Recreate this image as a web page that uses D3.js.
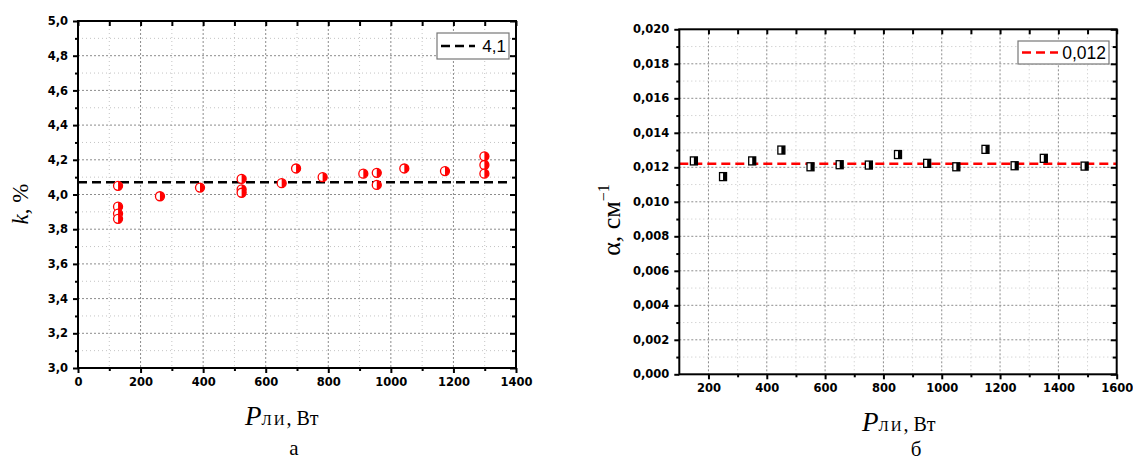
<!DOCTYPE html>
<html>
<head>
<meta charset="utf-8">
<script src="https://cdn.jsdelivr.net/npm/d3@7/dist/d3.min.js"></script>
<style>
	body { margin: 0; background: #fff; }
	.tick text { font-family: 'DejaVu Sans', sans-serif; font-weight: bold; font-size: 11.5px; fill: #000; }
	.serif { font-family: 'Liberation Serif', 'Times New Roman', serif; fill: #000; }
</style>
</head>
<body>
<svg id="chart" width="1133" height="463"></svg>
<script>
// panel a: k vs P
const kP = [128, 128, 128, 128, 262, 390, 523, 523, 523, 651, 697, 782, 912, 955, 955, 1043, 1173, 1299, 1299, 1299]
const kVal = [4.05, 3.93, 3.89, 3.86, 3.99, 4.04, 4.09, 4.03, 4.01, 4.065, 4.15, 4.1, 4.12, 4.125, 4.055, 4.15, 4.135, 4.22, 4.17, 4.12]
const kMean = 4.07
const kMeanX = [0, 1380]
const kLegend = '4,1'
const kXTicks = [0, 200, 400, 600, 800, 1000, 1200, 1400]
const kXMinor = [100, 300, 500, 700, 900, 1100, 1300]
const kYTicks = [3.0, 3.2, 3.4, 3.6, 3.8, 4.0, 4.2, 4.4, 4.6, 4.8, 5.0]
const kYMinor = [3.1, 3.3, 3.5, 3.7, 3.9, 4.1, 4.3, 4.5, 4.7, 4.9]

// panel b: alpha vs P
const aP = [150, 250, 350, 450, 550, 650, 750, 850, 950, 1050, 1150, 1250, 1350, 1490]
const aVal = [0.01237, 0.01146, 0.01237, 0.0130, 0.01203, 0.01215, 0.01213, 0.01274, 0.01223, 0.01203, 0.01304, 0.01209, 0.01252, 0.01207]
const aMean = 0.0122
const aMeanX = [100, 1600]
const aLegend = '0,012'
const aXTicks = [200, 400, 600, 800, 1000, 1200, 1400, 1600]
const aXMinor = [300, 500, 700, 900, 1100, 1300, 1500]
const aYTicks = [0, 0.002, 0.004, 0.006, 0.008, 0.01, 0.012, 0.014, 0.016, 0.018, 0.02]
const aYMinor = [0.001, 0.003, 0.005, 0.007, 0.009, 0.011, 0.013, 0.015, 0.017, 0.019]

const locale = d3.formatLocale({ decimal: ',', thousands: ' ', grouping: [3], currency: ['', ''] })

var svg = d3.select('#chart')

function drawPanel(cfg) {
	var x = d3.scaleLinear().domain(cfg.xDomain).range(cfg.xRange)
	var y = d3.scaleLinear().domain(cfg.yDomain).range(cfg.yRange)
	var g = svg.append('g')
	var x0 = cfg.xRange[0], x1 = cfg.xRange[1], y0 = cfg.yRange[1], y1 = cfg.yRange[0]

	// grid: minor first, then major
	var grid = g.append('g')
	grid.selectAll('.vminor').data(cfg.xMinor).join('line')
		.attr('x1', (d) => x(d)).attr('x2', (d) => x(d)).attr('y1', y0).attr('y2', y1)
		.attr('stroke', '#c4c4c4').attr('stroke-width', 1).attr('stroke-dasharray', '1,3')
	grid.selectAll('.hminor').data(cfg.yMinor).join('line')
		.attr('y1', (d) => y(d)).attr('y2', (d) => y(d)).attr('x1', x0).attr('x2', x1)
		.attr('stroke', '#c4c4c4').attr('stroke-width', 1).attr('stroke-dasharray', '1,3')
	grid.selectAll('.vmajor').data(cfg.xTicks.filter((d) => x(d) > x0 + 1 && x(d) < x1 - 1)).join('line')
		.attr('x1', (d) => x(d)).attr('x2', (d) => x(d)).attr('y1', y0).attr('y2', y1)
		.attr('stroke', '#8c8c8c').attr('stroke-width', 1).attr('stroke-dasharray', '2,2')
	grid.selectAll('.hmajor').data(cfg.yTicks.filter((d) => y(d) > y0 + 1 && y(d) < y1 - 1)).join('line')
		.attr('y1', (d) => y(d)).attr('y2', (d) => y(d)).attr('x1', x0).attr('x2', x1)
		.attr('stroke', '#8c8c8c').attr('stroke-width', 1).attr('stroke-dasharray', '2,2')

	// mean line
	g.append('line')
		.attr('x1', x(cfg.meanX[0])).attr('x2', x(cfg.meanX[1]))
		.attr('y1', y(cfg.mean)).attr('y2', y(cfg.mean))
		.attr('stroke', cfg.meanColor).attr('stroke-width', 2.5).attr('stroke-dasharray', '9,5')

	// axes
	function styleAxis(sel) {
		sel.select('.domain').remove()
		sel.selectAll('.tick line').attr('stroke', '#000').attr('stroke-width', 2)
	}
	g.append('g').attr('transform', 'translate(0,' + y1 + ')')
		.call(d3.axisBottom(x).tickValues(cfg.xTicks).tickSize(5).tickPadding(5).tickFormat(locale.format('d')))
		.call(styleAxis)
	g.append('g').attr('transform', 'translate(0,' + y1 + ')')
		.call(d3.axisBottom(x).tickValues(cfg.xMinor).tickSize(3).tickFormat(''))
		.call(styleAxis)
	g.append('g').attr('transform', 'translate(0,' + y0 + ')')
		.call(d3.axisBottom(x).tickValues(cfg.xTicks.concat(cfg.xMinor)).tickSize(5).tickFormat(''))
		.call(styleAxis)
	g.append('g').attr('transform', 'translate(' + x0 + ',0)')
		.call(d3.axisLeft(y).tickValues(cfg.yTicks).tickSize(5).tickPadding(5).tickFormat(locale.format(cfg.yFormat)))
		.call(styleAxis)
	g.append('g').attr('transform', 'translate(' + x0 + ',0)')
		.call(d3.axisLeft(y).tickValues(cfg.yMinor).tickSize(3).tickFormat(''))
		.call(styleAxis)
	g.append('g').attr('transform', 'translate(' + x1 + ',0)')
		.call(d3.axisLeft(y).tickValues(cfg.yTicks).tickSize(6).tickFormat(''))
		.call(styleAxis)
	g.append('g').attr('transform', 'translate(' + x1 + ',0)')
		.call(d3.axisLeft(y).tickValues(cfg.yMinor).tickSize(4).tickFormat(''))
		.call(styleAxis)

	// frame
	g.append('rect')
		.attr('x', x0).attr('y', y0).attr('width', x1 - x0).attr('height', y1 - y0)
		.attr('fill', 'none').attr('stroke', '#000').attr('stroke-width', 2)

	// points
	var pts = g.append('g').selectAll('g').data(cfg.xs.map((d, i) => [d, cfg.ys[i]])).join('g')
		.attr('transform', (d) => 'translate(' + x(d[0]) + ',' + y(d[1]) + ')')
	if (cfg.marker === 'circle') {
		pts.append('circle').attr('r', 4.5).attr('fill', '#fff').attr('stroke', '#f00').attr('stroke-width', 1.3)
		pts.append('path')
			.attr('d', d3.arc().innerRadius(0).outerRadius(4.5).startAngle(0).endAngle(Math.PI))
			.attr('fill', '#f00')
	} else {
		pts.append('rect').attr('x', -3.5).attr('y', -4).attr('width', 7).attr('height', 8)
			.attr('fill', '#fff').attr('stroke', '#000').attr('stroke-width', 1.3)
		pts.append('rect').attr('x', 0).attr('y', -4).attr('width', 3.5).attr('height', 8).attr('fill', '#000')
	}

	// legend
	var lg = cfg.legend
	g.append('rect').attr('x', lg.x).attr('y', lg.y).attr('width', lg.w).attr('height', lg.h)
		.attr('fill', '#fff').attr('stroke', '#777').attr('stroke-width', 1.2)
	g.append('line')
		.attr('x1', lg.x + 4).attr('x2', lg.x + lg.lineW).attr('y1', lg.y + lg.h / 2).attr('y2', lg.y + lg.h / 2)
		.attr('stroke', cfg.meanColor).attr('stroke-width', 2.5).attr('stroke-dasharray', '9,5')
	g.append('text')
		.attr('x', lg.x + lg.w - 3).attr('y', lg.y + lg.h / 2 + lg.size * 0.36)
		.attr('text-anchor', 'end')
		.style('font-family', "'Liberation Sans', Arial, sans-serif").style('font-size', lg.size + 'px')
		.text(cfg.legendText)
}

drawPanel({
	xs: kP, ys: kVal, mean: kMean, meanX: kMeanX, meanColor: '#000', legendText: kLegend,
	xDomain: [0, 1400], yDomain: [3, 5], xRange: [78, 516], yRange: [368, 21],
	xTicks: kXTicks, xMinor: kXMinor, yTicks: kYTicks, yMinor: kYMinor, yFormat: '.1f',
	marker: 'circle',
	legend: { x: 437, y: 33, w: 72, h: 26, lineW: 38, size: 17 },
})

drawPanel({
	xs: aP, ys: aVal, mean: aMean, meanX: aMeanX, meanColor: '#f00', legendText: aLegend,
	xDomain: [100, 1600], yDomain: [0, 0.02], xRange: [679.3, 1116.7], yRange: [374.3, 29.3],
	xTicks: aXTicks, xMinor: aXMinor, yTicks: aYTicks, yMinor: aYMinor, yFormat: '.3f',
	marker: 'square',
	legend: { x: 1018, y: 41, w: 91, h: 23, lineW: 40, size: 17.5 },
})

// axis titles
function xTitle(xp, yp) {
	var t = svg.append('text').attr('class', 'serif').attr('x', xp).attr('y', yp)
	t.append('tspan').style('font-style', 'italic').style('font-size', '27px').text('P')
	t.append('tspan').style('font-size', '15px').attr('letter-spacing', 2).text('ЛИ')
	t.append('tspan').style('font-size', '20px').text(', Вт')
}
xTitle(245, 425)
xTitle(862, 431)

var ky = svg.append('text').attr('class', 'serif')
	.attr('transform', 'translate(28,204) rotate(-90)').attr('text-anchor', 'middle').style('font-size', '23px')
ky.append('tspan').style('font-style', 'italic').text('k')
ky.append('tspan').text(', %')

var ay = svg.append('text').attr('class', 'serif')
	.attr('transform', 'translate(620,220) rotate(-90)').attr('text-anchor', 'middle').style('font-size', '26px')
ay.append('tspan').text('α, см')
ay.append('tspan').attr('dy', -11).style('font-size', '16px').text('−1')

svg.append('text').attr('class', 'serif').attr('x', 294).attr('y', 455)
	.attr('text-anchor', 'middle').style('font-size', '21px').text('а')
svg.append('text').attr('class', 'serif').attr('x', 916).attr('y', 456)
	.attr('text-anchor', 'middle').style('font-size', '21px').text('б')
</script>
</body>
</html>
